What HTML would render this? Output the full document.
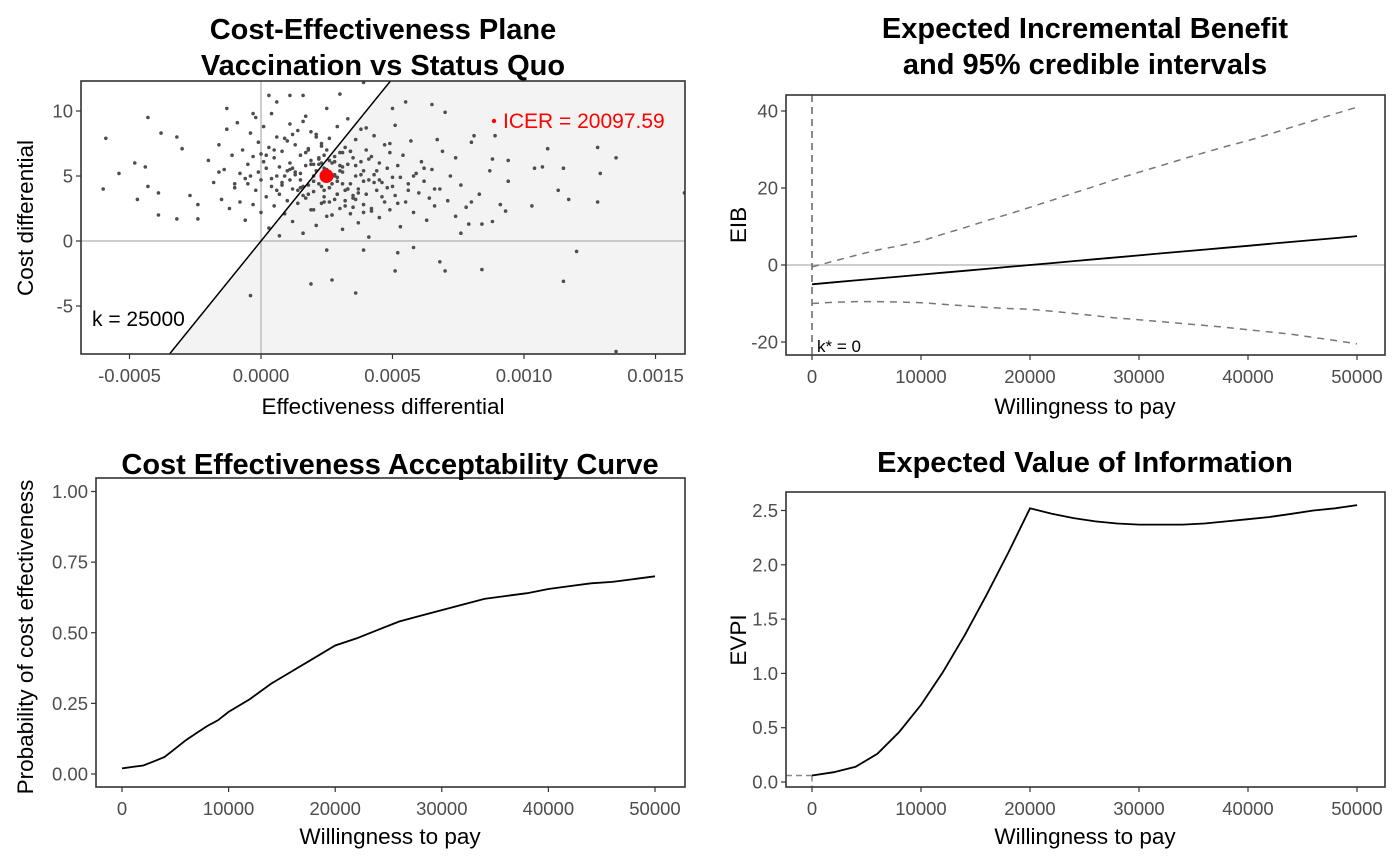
<!DOCTYPE html>
<html><head><meta charset="utf-8"><style>
body{margin:0;background:#fff;}
svg{display:block;font-family:"Liberation Sans",Arial,sans-serif;}
.tick{font-size:18.5px;fill:#4d4d4d;}
.lab{font-size:21px;}
.ttl{font-size:29px;font-weight:bold;fill:#000;text-anchor:middle;}
.axt{font-size:22.5px;fill:#000;text-anchor:middle;}
</style></head><body>
<svg id="fig" width="1400" height="866" viewBox="0 0 1400 866">
<defs>
<clipPath id="c1"><rect x="81" y="81" width="604" height="273"/></clipPath>
<clipPath id="c2"><rect x="786" y="95" width="599" height="260"/></clipPath>
</defs>
<g id="p1"></g>
<g id="p2"></g>
<g id="p3"></g>
<g id="p4"></g>
</svg>
<script>
// ---- data ----
const ceEff = [-6.9,-6.0,-5.9,-5.4,-4.8,-4.7,-4.3,-4.4,-4.3,-3.8,-3.9,-3.9,-3.2,-3.2,-3.0,-2.4,-2.4,-2.7,-0.4,1.9,2.7,3.6,2.5,3.9,5.1,5.2,5.8,6.8,7.0,8.4,12.0,11.5,13.5,12.8,13.5,12.9,10.9,11.3,11.7,10.3,12.8,16.1,10.4,10.7,11.5,9.4,8.8,9.4,9.1,9.3,8.8,8.4,7.9,7.6,8.0,8.1,7.0,6.5,5.5,5.0,6.7,7.4,8.3,8.0,8.7,8.9,0.3,1.1,1.6,0.6,3.0,3.9,-1.3,-0.3,
-2,-1.8,-1.6,-1.5,-1.4,-1.3,-1.2,-1.1,-1.0,-0.9,-0.8,-0.8,-0.7,-0.6,-0.5,-0.5,-0.4,-0.3,-0.3,-0.2,-0.2,-0.1,-0.1,0,0,0.1,0.1,0.2,0.2,0.3,0.3,0.4,0.4,0.5,0.5,0.6,0.6,0.7,0.7,0.8,0.8,0.9,0.9,1.0,1.0,1.1,1.1,1.2,1.2,1.3,1.3,1.4,1.4,1.5,1.5,1.6,1.6,1.7,1.7,1.8,1.8,1.9,1.9,2.0,2.0,2.1,2.1,2.2,2.2,2.3,2.3,2.4,2.4,2.5,2.5,2.6,2.6,2.7,2.7,2.8,2.8,2.9,2.9,3.0,3.0,3.1,3.1,3.2,3.2,3.3,3.3,3.4,3.4,3.5,3.5,3.6,3.6,3.7,3.7,3.8,3.8,3.9,3.9,4.0,4.0,4.1,4.1,4.2,4.2,4.3,4.3,4.4,4.5,4.5,4.6,4.7,4.7,4.8,4.9,4.9,5.0,5.1,5.1,5.2,5.3,5.3,5.4,5.5,5.6,5.7,5.8,5.9,6.0,6.1,6.2,6.3,6.4,6.5,6.6,6.8,6.9,7.1,7.2,7.4,7.6,7.8,
1.5,2.0,2.5,3.0,2.2,2.8,1.8,3.3,2.4,1.2,3.6,2.6,2.1,3.1,1.6,2.9,0.9,3.9,2.3,1.9,2.7,3.4,1.1,4.4,0.6,2.5,-0.4,4.8,1.7,3.2,
1.4,2.3,3.5,0.7,2.9,1.9,4.1,2.6,3.8,1.0,2.0,3.1,0.4,4.6,2.4,1.6,3.3,2.8,5.2,1.3,2.1,3.7,0.2,4.3,2.7,1.8,3.0,5.6,2.2,-0.6,3.6,1.1,4.9,2.5,0.8,3.4,6.2,1.5,2.9,4.0,-1.0,3.2,2.0,5.8,1.7,2.6,0.5,4.5,3.9,2.3,-1.6,6.6,1.2,3.5,2.8,4.2,0.0,5.0,2.4,3.1];
const ceCost = [3.6,4.0,7.9,5.2,6.0,3.2,9.5,5.7,4.2,8.3,2.0,3.7,1.7,8.0,7.1,1.7,2.8,3.5,-4.2,-3.3,-3.0,-4.0,-0.7,-0.7,-2.3,-0.9,-0.5,-1.6,-2.3,-2.2,-0.8,-3.1,-8.5,7.2,6.4,5.2,7.1,3.9,3.2,2.7,3.0,3.7,5.6,5.7,5.6,6.2,6.3,4.6,2.8,2.3,1.5,1.3,1.3,0.6,7.6,8.1,9.9,10.5,10.7,10.2,7.8,6.4,3.6,3.0,5.4,8.1,11.2,11.2,11.2,10.7,11.3,12.2,10.2,9.8,
6.2,4.5,7.4,3.2,5.5,8.6,2.5,6.6,4.1,9.1,5.2,3.0,7.0,1.6,5.9,4.4,8.3,2.8,6.5,3.9,9.5,5.3,7.6,2.2,4.7,6.1,8.8,3.4,5.6,1.0,7.2,4.2,9.8,2.7,6.4,5.0,8.0,3.6,0.4,6.9,4.5,2.1,7.9,5.4,3.1,9.0,6.0,4.0,1.5,7.4,5.1,2.9,8.5,4.7,6.6,3.5,0.6,5.8,9.6,4.3,7.0,2.4,6.2,5.0,3.8,8.2,1.2,5.9,4.4,7.5,2.9,6.6,3.4,5.5,10.2,4.1,7.9,2.0,6.0,5.0,3.2,8.8,4.6,6.8,2.5,5.3,0.9,7.2,3.9,5.9,9.4,4.4,2.1,6.4,3.3,7.8,5.0,1.4,4.0,6.1,8.6,2.8,5.4,3.6,7.0,4.7,0.3,6.5,2.3,5.1,8.1,3.9,6.0,1.8,4.5,7.4,3.0,5.6,2.4,6.8,4.2,8.9,3.5,5.8,1.1,4.9,6.6,3.0,4.4,7.7,2.2,5.2,3.7,6.1,4.6,1.6,3.3,5.5,2.7,4.0,6.9,3.1,5.0,1.9,4.3,2.6,
5.2,4.6,4.8,5.4,6.3,6.5,3.6,4.0,3.9,5.6,5.8,5.2,5.4,4.4,4.2,3.6,5.0,4.6,4.2,5.9,4.4,6.9,4.7,5.4,3.9,7.0,5.0,4.1,6.8,3.1,
3.9,7.3,2.6,5.7,4.9,8.4,6.3,3.0,5.1,7.7,2.4,6.8,4.8,3.4,5.6,9.2,4.0,6.1,2.9,5.3,8.0,3.7,6.6,4.5,2.0,7.1,5.8,3.9,6.4,4.8,3.2,5.5,7.5,1.9,4.3,6.9,5.6,4.1,3.6,8.7,4.4,2.7,5.9,5.0,3.3,6.2,7.0,4.7,2.2,6.0,5.3,4.0,8.2,3.5,5.1,2.5,6.7,4.9,3.0,5.7];
const icerEff = [2.49], icerCost = [5.0];
const wtpGrid = [0,2000,4000,6000,8000,10000,12000,14000,16000,18000,20000,22000,24000,26000,28000,30000,32000,34000,36000,38000,40000,42000,44000,46000,48000,50000];
const eibMean = [-5.0,-4.5,-4.0,-3.5,-3.0,-2.5,-2.0,-1.5,-1.0,-0.5,0.0,0.5,1.0,1.5,2.0,2.5,3.0,3.5,4.0,4.5,5.0,5.5,6.0,6.5,7.0,7.5];
const eibHigh = [-0.5,1.0,2.5,3.9,5.0,6.2,8.0,9.7,11.5,13.2,15.0,16.8,18.7,20.5,22.4,24.1,25.8,27.5,29.2,30.8,32.3,34.0,35.8,37.5,39.3,41.0];
const eibLow = [-10.0,-9.7,-9.5,-9.5,-9.6,-9.8,-10.2,-10.6,-11.0,-11.3,-11.5,-12.0,-12.6,-13.2,-13.8,-14.2,-14.7,-15.2,-15.7,-16.2,-16.8,-17.4,-18.0,-18.8,-19.6,-20.5];
const ceacWtp = [0,1000,2000,3000,4000,5000,6000,7000,8000,9000,10000,12000,14000,16000,18000,20000,22000,24000,26000,28000,30000,32000,34000,36000,38000,40000,42000,44000,46000,48000,50000];
const ceacProb = [0.02,0.025,0.03,0.045,0.06,0.09,0.12,0.145,0.17,0.19,0.22,0.265,0.32,0.365,0.41,0.455,0.48,0.51,0.54,0.56,0.58,0.60,0.62,0.63,0.64,0.655,0.665,0.675,0.68,0.69,0.70];
const evpi = [0.06,0.09,0.14,0.26,0.46,0.71,1.01,1.35,1.72,2.11,2.52,2.47,2.43,2.40,2.38,2.37,2.37,2.37,2.38,2.40,2.42,2.44,2.47,2.50,2.52,2.55];
const ceXTicks = [-5,0,5,10,15], ceXLabels = ["-0.0005","0.0000","0.0005","0.0010","0.0015"];
const ceYTicks = [10,5,0,-5];
const wtpTicks = [0,10000,20000,30000,40000,50000];
const eibYTicks = [40,20,0,-20];
const ceacYTicks = [0,0.25,0.5,0.75,1.0], ceacYLabels = ["0.00","0.25","0.50","0.75","1.00"];
const evpiYTicks = [0,0.5,1,1.5,2,2.5], evpiYLabels = ["0.0","0.5","1.0","1.5","2.0","2.5"];

const NS="http://www.w3.org/2000/svg";
function mk(parent,tag,attrs,name,inter){const e=document.createElementNS(NS,tag);for(const k in attrs)e.setAttribute(k,attrs[k]);


parent.appendChild(e);return e;}
function txt(parent,x,y,s,cls,name,extra){const t=mk(parent,'text',Object.assign({x:x,y:y,class:cls},extra||{}),name,false);t.textContent=s;return t;}
function path(xs,ys,sx,sy){return xs.map((v,i)=>(i?'L':'M')+sx(v).toFixed(1)+','+sy(ys[i]).toFixed(1)).join('');}
function frame(g,L,T,R,B,name){mk(g,'rect',{x:L,y:T,width:R-L,height:B-T,fill:'none',stroke:'#333',"stroke-width":1.6},name,false);}
function xTicks(g,vals,labels,sx,B,name){vals.forEach((v,i)=>{mk(g,'line',{x1:sx(v),x2:sx(v),y1:B,y2:B+5,stroke:'#333',"stroke-width":1.2},name+'-tick',false);
txt(g,sx(v),B+28,labels[i],'tick',name+'-label',{"text-anchor":"middle"});});}
function yTicks(g,vals,labels,sy,L,name){vals.forEach((v,i)=>{mk(g,'line',{x1:L-5,x2:L,y1:sy(v),y2:sy(v),stroke:'#333',"stroke-width":1.2},name+'-tick',false);
txt(g,L-8,sy(v)+6.5,labels[i],'tick',name+'-label',{"text-anchor":"end"});});}

// ---- Panel 1: CE plane ----
(function(){
const g=document.getElementById('p1');const L=81,R=685,T=81,B=354;
const sx=v=>261+(v/5)*131.5, sy=v=>241-v*13;
const k=25000;
const effAt=c=>c/(k*1e-4);
const cl=mk(g,'g',{"clip-path":"url(#c1)"},'plot-area',false);
const yTop=(241-T)/13, yBot=(241-B)/13;
mk(cl,'polygon',{points:`${sx(effAt(yTop))},${T} ${R},${T} ${R},${B} ${sx(effAt(yBot))},${B}`,fill:'#f3f3f3'},'sustainability-area',false);
mk(cl,'line',{x1:L,x2:R,y1:sy(0),y2:sy(0),stroke:'#bdbdbd',"stroke-width":1.5},'zero-cost-line',false);
mk(cl,'line',{x1:sx(0),x2:sx(0),y1:T,y2:B,stroke:'#bdbdbd',"stroke-width":1.5},'zero-effect-line',false);
ceEff.forEach((e,i)=>mk(cl,'circle',{cx:sx(e),cy:sy(ceCost[i]),r:1.8,fill:'#4d4d4d'},'simulation-point',false));
mk(cl,'line',{x1:sx(effAt(yTop)),y1:T,x2:sx(effAt(yBot)),y2:B,stroke:'#000',"stroke-width":1.5},'wtp-line',false);
mk(cl,'circle',{cx:sx(icerEff[0]),cy:sy(icerCost[0]),r:7,fill:'#ff0000'},'icer-point',false);
mk(g,'circle',{cx:494,cy:121,r:2.2,fill:'#ff0000'},'icer-legend-dot',false);
txt(g,503,128,'ICER = 20097.59','tick lab','icer-label',{style:'fill:#ff0000'});
txt(g,92,326,'k = 25000','tick lab','k-label',{style:'fill:#000'});
frame(g,L,T,R,B,'plot-frame');
xTicks(g,ceXTicks,ceXLabels,sx,B,'x-axis');
yTicks(g,ceYTicks,ceYTicks.map(String),sy,L,'y-axis');
txt(g,383,39,'Cost-Effectiveness Plane','ttl','title-line1');
txt(g,383,75,'Vaccination vs Status Quo','ttl','title-line2');
txt(g,383,414,'Effectiveness differential','axt','x-axis-title');
txt(g,33,218,'Cost differential','axt','y-axis-title',{transform:'rotate(-90 33 218)'});
})();

// ---- Panel 2: EIB ----
(function(){
const g=document.getElementById('p2');const L=786,R=1385,T=95,B=355;
const sx=v=>812+v/50000*545, sy=v=>265-v*3.85;
const cl=mk(g,'g',{"clip-path":"url(#c2)"},'plot-area',false);
mk(cl,'line',{x1:L,x2:R,y1:sy(0),y2:sy(0),stroke:'#bdbdbd',"stroke-width":1.5},'zero-line',false);
mk(cl,'line',{x1:sx(0),x2:sx(0),y1:T,y2:B,stroke:'#666',"stroke-width":1.5,"stroke-dasharray":"7,5"},'kstar-line',false);
mk(cl,'path',{d:path(wtpGrid,eibHigh,sx,sy),fill:'none',stroke:'#777',"stroke-width":1.5,"stroke-dasharray":"7,6"},'upper-ci-line',false);
mk(cl,'path',{d:path(wtpGrid,eibLow,sx,sy),fill:'none',stroke:'#777',"stroke-width":1.5,"stroke-dasharray":"7,6"},'lower-ci-line',false);
mk(cl,'path',{d:path(wtpGrid,eibMean,sx,sy),fill:'none',stroke:'#000',"stroke-width":1.8},'eib-line',false);
txt(g,817,352,'k* = 0','tick','kstar-label',{style:'fill:#000;font-size:17px'});
frame(g,L,T,R,B,'plot-frame');
xTicks(g,wtpTicks,wtpTicks.map(String),sx,B,'x-axis');
yTicks(g,eibYTicks,eibYTicks.map(String),sy,L,'y-axis');
txt(g,1085,38,'Expected Incremental Benefit','ttl','title-line1');
txt(g,1085,74,'and 95% credible intervals','ttl','title-line2');
txt(g,1085,414,'Willingness to pay','axt','x-axis-title');
txt(g,746,225,'EIB','axt','y-axis-title',{transform:'rotate(-90 746 225)'});
})();

// ---- Panel 3: CEAC ----
(function(){
const g=document.getElementById('p3');const L=96,R=685,T=478,B=787;
const sx=v=>122+v/50000*533, sy=v=>774-v*282.5;
mk(g,'path',{d:path(ceacWtp,ceacProb,sx,sy),fill:'none',stroke:'#000',"stroke-width":1.8},'ceac-line',false);
frame(g,L,T,R,B,'plot-frame');
xTicks(g,wtpTicks,wtpTicks.map(String),sx,B,'x-axis');
yTicks(g,ceacYTicks,ceacYLabels,sy,L,'y-axis');
txt(g,390,474,'Cost Effectiveness Acceptability Curve','ttl','title');
txt(g,390,844,'Willingness to pay','axt','x-axis-title');
txt(g,33,637,'Probability of cost effectiveness','axt','y-axis-title',{transform:'rotate(-90 33 637)'});
})();

// ---- Panel 4: EVPI ----
(function(){
const g=document.getElementById('p4');const L=786,R=1385,T=492,B=787;
const sx=v=>812+v/50000*545, sy=v=>782-v*108.6;
mk(g,'line',{x1:L,x2:sx(0),y1:sy(evpi[0]),y2:sy(evpi[0]),stroke:'#888',"stroke-width":1.5,"stroke-dasharray":"6,4"},'evpi-h-guide',false);
mk(g,'line',{x1:sx(0),x2:sx(0),y1:sy(evpi[0]),y2:B,stroke:'#888',"stroke-width":1.5,"stroke-dasharray":"6,4"},'evpi-v-guide',false);
mk(g,'path',{d:path(wtpGrid,evpi,sx,sy),fill:'none',stroke:'#000',"stroke-width":1.8},'evpi-line',false);
frame(g,L,T,R,B,'plot-frame');
xTicks(g,wtpTicks,wtpTicks.map(String),sx,B,'x-axis');
yTicks(g,evpiYTicks,evpiYLabels,sy,L,'y-axis');
txt(g,1085,472,'Expected Value of Information','ttl','title');
txt(g,1085,844,'Willingness to pay','axt','x-axis-title');
txt(g,746,640,'EVPI','axt','y-axis-title',{transform:'rotate(-90 746 640)'});
})();
</script>
</body></html>
